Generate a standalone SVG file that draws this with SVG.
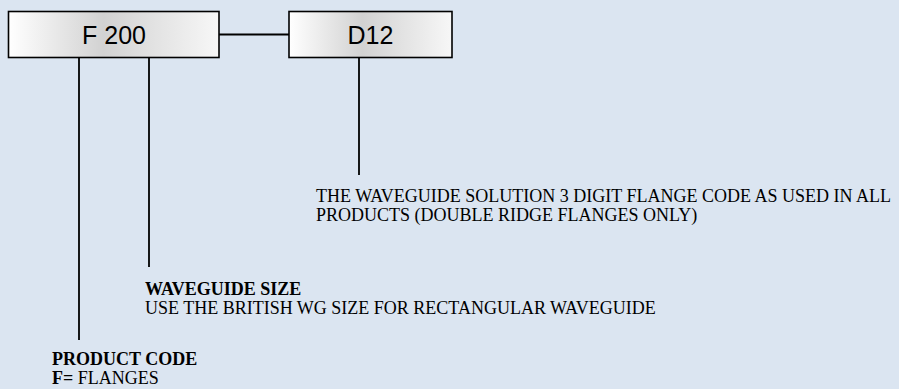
<svg xmlns="http://www.w3.org/2000/svg" width="899" height="389" viewBox="0 0 899 389">
<defs>
<linearGradient id="g" x1="0" y1="0" x2="1" y2="0">
<stop offset="0" stop-color="#ffffff"/>
<stop offset="0.45" stop-color="#d2d2d2"/>
<stop offset="1" stop-color="#f7f7f7"/>
</linearGradient>
<style>
.box{fill:url(#g);stroke:#000;stroke-width:1.6}
.lbl{font-family:"Liberation Sans",Arial,sans-serif;font-size:25px;fill:#000;text-anchor:middle}
.t{font-family:"Liberation Serif","Times New Roman",serif;font-size:18px;fill:#000}
.b{font-weight:bold}
.ln{stroke:#000;stroke-width:1.8;fill:none}
</style>
</defs>
<rect x="0" y="0" width="899" height="389" fill="#dbe5f1"/>
<g id="connectors">
<line class="ln" x1="219" y1="34.5" x2="289" y2="34.5"/>
<line class="ln" x1="79" y1="58" x2="79" y2="340"/>
<line class="ln" x1="149" y1="58" x2="149" y2="267"/>
<line class="ln" x1="359" y1="58" x2="359" y2="175"/>
</g>
<g id="node-f200">
<rect class="box" x="8.5" y="11.5" width="210.5" height="46"/>
<text class="lbl" x="114" y="44">F 200</text>
</g>
<g id="node-d12">
<rect class="box" x="289" y="11.5" width="163" height="46"/>
<text class="lbl" x="370.5" y="44">D12</text>
</g>
<g id="note-flange">
<text class="t" x="316" y="202">THE WAVEGUIDE SOLUTION 3 DIGIT FLANGE CODE AS USED IN ALL</text>
<text class="t" x="316" y="221">PRODUCTS (DOUBLE RIDGE FLANGES ONLY)</text>
</g>
<g id="note-size">
<text class="t b" x="145" y="295">WAVEGUIDE SIZE</text>
<text class="t" x="145" y="314">USE THE BRITISH WG SIZE FOR RECTANGULAR WAVEGUIDE</text>
</g>
<g id="note-product">
<text class="t b" x="52" y="365">PRODUCT CODE</text>
<text class="t" x="52" y="384"><tspan class="b">F=</tspan> FLANGES</text>
</g>
</svg>
